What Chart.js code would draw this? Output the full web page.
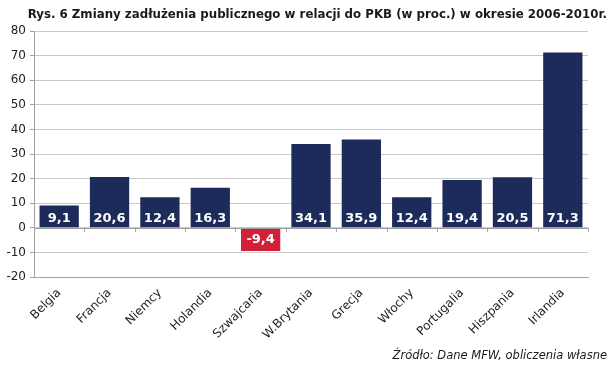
<!DOCTYPE html>
<html><head><meta charset="utf-8">
<script src="https://cdn.jsdelivr.net/npm/chart.js@4"></script>
<style>html,body{margin:0;padding:0;background:#fff}#wrap{width:610px;height:365px}</style>
</head><body><div id="wrap"><canvas id="c"></canvas></div>
<script>
const categories = ["Belgia","Francja","Niemcy","Holandia","Szwajcaria","W.Brytania","Grecja","Włochy","Portugalia","Hiszpania","Irlandia"];
const values = [9.1,20.6,12.4,16.3,-9.4,34.1,35.9,12.4,19.4,20.5,71.3];
const yTicks = [80,70,60,50,40,30,20,10,0,-10,-20];
const titleText = "Rys. 6 Zmiany zadłużenia publicznego w relacji do PKB (w proc.) w okresie 2006-2010r.";
const sourceText = "Źródło: Dane MFW, obliczenia własne";

const NAVY = "#1c2b59", RED = "#d2203a";
const FONT = "'DejaVu Sans', Verdana, sans-serif";

const labelPlugin = {
  id: "valLabels",
  afterDatasetsDraw(chart) {
    const ctx = chart.ctx;
    const meta = chart.getDatasetMeta(0);
    const y0 = chart.scales.y.getPixelForValue(0);
    ctx.save();
    ctx.font = "bold 13px " + FONT;
    ctx.fillStyle = "#fff";
    ctx.textAlign = "center";
    meta.data.forEach((bar, i) => {
      const v = values[i];
      const txt = String(v).replace(".", ",");
      if (v >= 0) { ctx.textBaseline = "bottom"; ctx.fillText(txt, bar.x, y0 - 3); }
      else { ctx.textBaseline = "top"; ctx.fillText(txt, bar.x, y0 + 5); }
    });
    ctx.restore();
  }
};

const zeroTicks = {
  id: "zeroTicks",
  afterDatasetsDraw(chart) {
    const ctx = chart.ctx, xs = chart.scales.x, y0 = chart.scales.y.getPixelForValue(0);
    ctx.save(); ctx.strokeStyle = "#a0a0a0"; ctx.lineWidth = 1;
    for (let i = 0; i <= categories.length; i++) {
      const x = Math.round(xs.left + i * (xs.right - xs.left) / categories.length) + 0.5;
      ctx.beginPath(); ctx.moveTo(x, y0); ctx.lineTo(x, y0 + 4); ctx.stroke();
    }
    ctx.beginPath(); ctx.moveTo(xs.left, Math.round(y0)+0.5); ctx.lineTo(xs.right, Math.round(y0)+0.5); ctx.stroke();
    ctx.restore();
  }
};

const textPlugin = {
  id: "texts",
  afterDraw(chart) {
    const ctx = chart.ctx;
    ctx.save();
    ctx.fillStyle = "#1a1a1a";
    ctx.textAlign = "right";
    ctx.textBaseline = "middle";
    ctx.font = "bold 11.8px " + FONT;
    ctx.fillText(titleText, 607, 15);
    ctx.font = "italic 11.5px " + FONT;
    ctx.fillText(sourceText, 607, 356);
    ctx.restore();
  }
};

new Chart(document.getElementById("c"), {
  type: "bar",
  data: { labels: categories, datasets: [{ data: values,
    backgroundColor: values.map(v => v < 0 ? RED : NAVY),
    categoryPercentage: 0.78, barPercentage: 1.0 }] },
  options: {
    responsive: true, maintainAspectRatio: false, animation: false,
    layout: { padding: { left: 0, right: 22, top: 31, bottom: 22 } },
    plugins: {
      legend: { display: false }, tooltip: { enabled: false },
      title: { display: false }
    },
    scales: {
      x: { grid: { display: false, drawTicks: false }, border: { color: "#a0a0a0" },
        afterFit(s) { s.height = 66; },
        ticks: { color: "#222", maxRotation: 45, minRotation: 45, padding: 9,
          font: { family: FONT, size: 12 } } },
      y: { min: -20, max: 80, afterFit(s) { s.width = 34; },
        afterBuildTicks(s) { s.ticks = yTicks.map(v => ({ value: v })); },
        grid: { color: "#c8c8c8", drawTicks: true, tickLength: 4, tickColor: "#a0a0a0" },
        border: { color: "#a0a0a0" },
        ticks: { color: "#222", padding: 4, font: { family: FONT, size: 12 } } }
    }
  },
  plugins: [zeroTicks, labelPlugin, textPlugin]
});
</script></body></html>
